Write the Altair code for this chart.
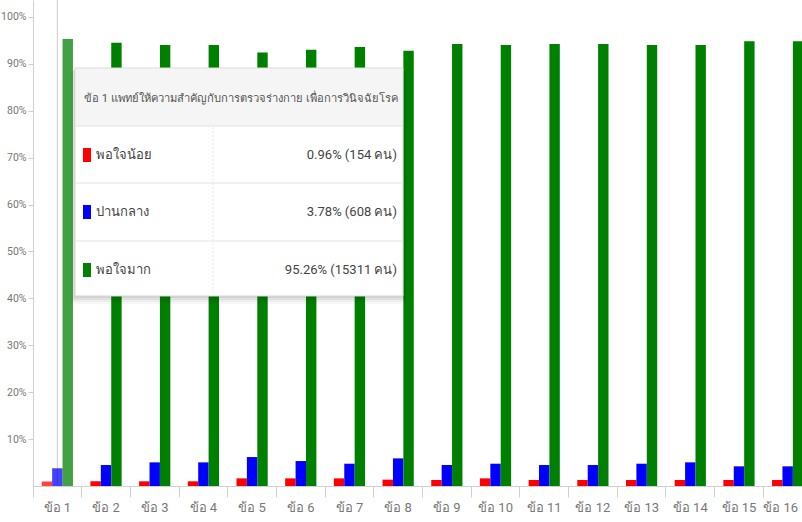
import altair as alt
import pandas as pd

# Questionnaire items and satisfaction levels
items = ["ข้อ 1", "ข้อ 2", "ข้อ 3", "ข้อ 4", "ข้อ 5", "ข้อ 6", "ข้อ 7", "ข้อ 8",
         "ข้อ 9", "ข้อ 10", "ข้อ 11", "ข้อ 12", "ข้อ 13", "ข้อ 14", "ข้อ 15", "ข้อ 16"]
levels = ["พอใจน้อย", "ปานกลาง", "พอใจมาก"]
level_colors = ["#ff0000", "#0000ff", "#008000"]

# Percent of respondents per level
low = [0.96, 1.00, 1.00, 1.00, 1.63, 1.63, 1.63, 1.35, 1.28, 1.63, 1.28, 1.28, 1.28, 1.28, 1.28, 1.28]
mid = [3.78, 4.47, 5.04, 5.04, 6.17, 5.32, 4.75, 5.89, 4.47, 4.75, 4.47, 4.47, 4.75, 5.04, 4.19, 4.19]
high = [95.26, 94.50, 94.00, 94.00, 92.40, 93.00, 93.60, 92.80, 94.20, 94.00, 94.20, 94.20, 94.00, 94.00, 94.80, 94.80]

# Hover details for the highlighted item
tip_title = "ข้อ 1 แพทย์ให้ความสำคัญกับการตรวจร่างกาย เพื่อการวินิจฉัยโรค"
tip_counts = [154, 608, 15311]

FONT = "Roboto, Noto Sans, sans-serif"
GREY = "#777777"
LINE = "#d0d0d0"

rows = []
for i, item in enumerate(items):
    for lvl, vals in zip(levels, [low, mid, high]):
        rows.append({"item": item, "level": lvl, "pct": vals[i], "active": i == 0})
df = pd.DataFrame(rows)

LEFT = 33
PLOT_W = 769
BAND_RANGE = 779  # the band range runs slightly past the right edge
PLOT_H = 486

x_scale = alt.Scale(domain=items, range=[0, BAND_RANGE], paddingInner=0, paddingOuter=0)
y_scale = alt.Scale(domain=[0, 103.6], nice=False, zero=True)

x_axis = alt.Axis(
    title=None, bandPosition=0, labelAngle=0,
    # nudge the last label so it stays inside the canvas
    labelOffset={"condition": {"test": f"datum.value === '{items[-1]}'", "value": -7}, "value": 0},
    tickSize=11, tickColor=LINE, domainColor=LINE, labelColor=GREY,
    labelFont=FONT, labelFontSize=13, labelPadding=4, grid=False,
)
y_axis = alt.Axis(
    title=None, values=[10, 20, 30, 40, 50, 60, 70, 80, 90, 100],
    labelExpr="datum.value + '%'", tickSize=5, tickColor=LINE, domainColor=LINE,
    labelColor=GREY, labelFont=FONT, labelFontSize=10.5, labelPadding=2, grid=False,
)

crosshair = alt.Chart(pd.DataFrame({"item": [items[0]]})).mark_rule(
    color="#cccccc", strokeWidth=1
).encode(
    x=alt.X("item:N", scale=x_scale, axis=x_axis),
    y=alt.value(0),
    y2=alt.value(PLOT_H),
)

bars = alt.Chart(df).mark_bar().encode(
    x=alt.X("item:N", scale=x_scale, axis=x_axis),
    xOffset=alt.XOffset("level:N", scale=alt.Scale(domain=levels, paddingInner=0, paddingOuter=0.84)),
    y=alt.Y("pct:Q", scale=y_scale, axis=y_axis),
    color=alt.Color("level:N", scale=alt.Scale(domain=levels, range=level_colors), legend=None),
    opacity=alt.condition("datum.active", alt.value(0.74), alt.value(1.0)),
)

one = pd.DataFrame({"k": [0]})
# tooltip panel, in page pixels (converted to plot-area coordinates below)
BX0, BX1, BY0, BY1 = 75, 403, 68, 296


def px(x):
    return x - LEFT


def box(x0, x1, y0, y1, **kw):
    return alt.Chart(one).mark_rect(**kw).encode(
        x=alt.value(px(x0)), x2=alt.value(px(x1)), y=alt.value(y0), y2=alt.value(y1)
    )


def hline(y, x0, x1, **kw):
    return alt.Chart(one).mark_rule(**kw).encode(
        x=alt.value(px(x0)), x2=alt.value(px(x1)), y=alt.value(y)
    )


def label(text, x, y, size, align, color="#444444"):
    return alt.Chart(one).mark_text(
        text=text, font=FONT, fontSize=size, color=color, align=align, baseline="middle"
    ).encode(x=alt.value(px(x)), y=alt.value(y))


tip_layers = []
# soft drop shadow
for off, op in [(8, 0.03), (6, 0.04), (4, 0.05), (2, 0.06)]:
    tip_layers.append(box(BX0 - off / 2, BX1 + off / 2, BY0 + off / 2, BY1 + off, color="#000000", opacity=op))
tip_layers.append(box(BX0, BX1, BY0, BY1, fill="#ffffff", stroke="#d6d6d6", strokeWidth=1))
tip_layers.append(box(BX0 + 1, BX1 - 1, BY0 + 1, 126, fill="#f5f5f5"))
for yy in [126, 183, 241]:
    tip_layers.append(hline(yy, BX0 + 1, BX1 - 1, color="#e2e2e2", strokeWidth=1))
tip_layers.append(
    alt.Chart(one).mark_rule(color="#e6e6e6", strokeDash=[2, 2]).encode(
        x=alt.value(px(213)), y=alt.value(127), y2=alt.value(BY1 - 1)
    )
)
tip_layers.append(label(tip_title, 84, 99, 11.2, "left", "#555555"))

row_y = [155, 212, 270]
tip_pcts = [low[0], mid[0], high[0]]
for lvl, col, yy, pct, cnt in zip(levels, level_colors, row_y, tip_pcts, tip_counts):
    tip_layers.append(box(83, 91, yy - 7, yy + 7, color=col))
    tip_layers.append(label(lvl, 96, yy, 13, "left"))
    tip_layers.append(label(f"{pct:.2f}% ({cnt} คน)", 397, yy, 13, "right"))

chart = alt.layer(crosshair, bars, *tip_layers).properties(
    width=PLOT_W,
    height=PLOT_H,
    padding={"left": LEFT, "top": 0, "right": 0, "bottom": 36},
    autosize=alt.AutoSizeParams(type="none"),
    background="#ffffff",
).configure_view(stroke="transparent")

chart.save("out.html", embed_options={"renderer": "svg", "actions": False})
